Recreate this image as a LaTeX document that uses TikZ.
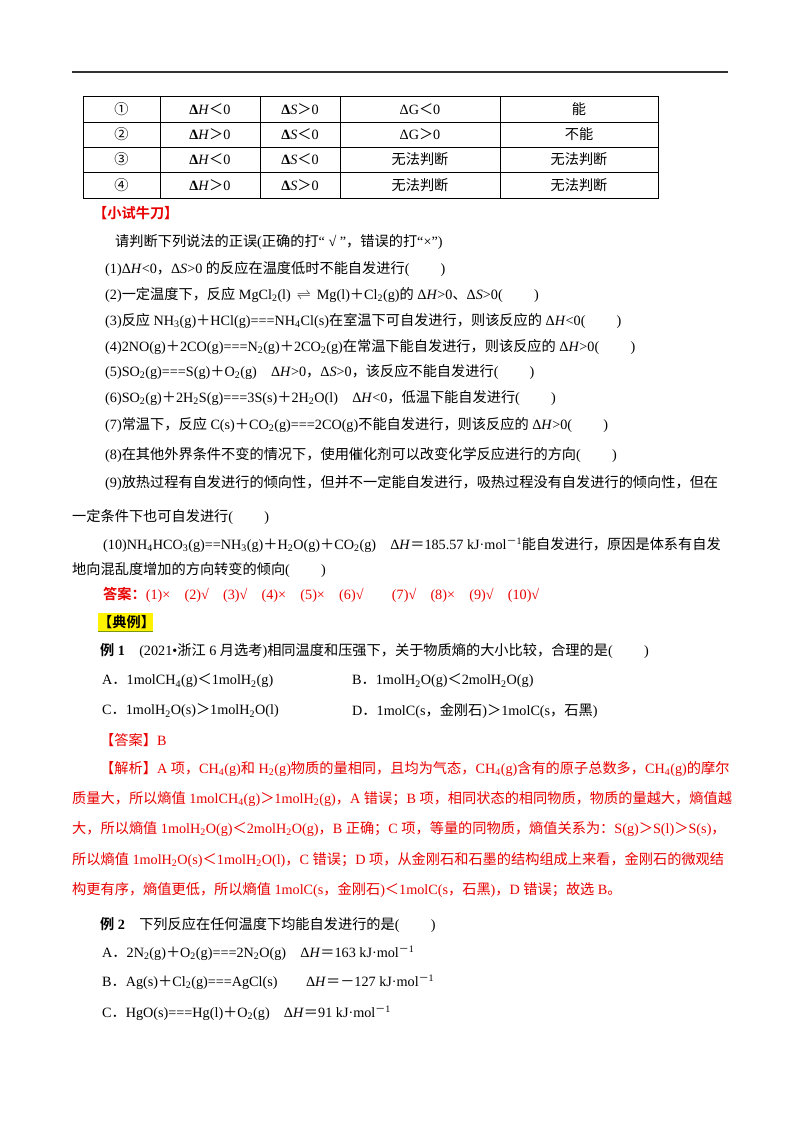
\documentclass[tikz,border=0pt]{standalone}
\usepackage{fontspec}
\setmainfont{Liberation Serif}
\newfontfamily\cjkf{Noto Sans CJK SC}[BoldFont={* Bold}]
\newcommand\latf{\rmfamily}
\XeTeXinterchartokenstate=1
\newXeTeXintercharclass\CJKcls
\newcount\cc
\newcommand\setcls[2]{\cc=#1\relax\loop\XeTeXcharclass\cc=\CJKcls\ifnum\cc<#2\advance\cc by 1\repeat}
\setcls{"4E00}{"9FFF}
\setcls{"3000}{"303F}
\setcls{"FF00}{"FFEF}
\setcls{"2460}{"2473}
\XeTeXinterchartoks 0 \CJKcls={\cjkf}
\XeTeXinterchartoks 4095 \CJKcls={\cjkf}
\XeTeXinterchartoks \CJKcls 0={\latf}
\XeTeXinterchartoks \CJKcls 4095={\latf}
\newcommand\s[1]{\textsubscript{#1}}
\newcommand\up[1]{\textsuperscript{#1}}
\newcommand\dH{Δ\textit{H}}
\newcommand\dS{Δ\textit{S}}
\definecolor{redt}{RGB}{232,0,0}
\tikzset{t/.style={anchor=west,inner sep=0pt,font=\fontsize{14.2}{16}\selectfont},
 tc/.style={inner sep=0pt,font=\fontsize{14.2}{16}\selectfont},
 rt/.style={t,text=redt}}
\begin{document}
\begin{tikzpicture}[x=1pt,y=-1pt]
\useasboundingbox (0,0) rectangle (800,1132);
\draw[line width=1.2pt,black!80] (72,72) -- (728,72);
% table
\draw[line width=0.6pt] (83,96) rectangle (658,198);
\foreach \y in {122,147,172} \draw[line width=0.6pt] (83,\y) -- (658,\y);
\foreach \x in {160,260,340,500} \draw[line width=0.6pt] (\x,96) -- (\x,198);
\foreach \y/\a/\b/\c/\d/\e [count=\i] in {109/①/＜/＞/ΔG＜0/能,134.5/②/＞/＜/ΔG＞0/不能,159.5/③/＜/＜/无法判断/无法判断,185/④/＞/＞/无法判断/无法判断}{
 \node[tc] (c1\i) at (121.5,\y) {\a};
 \node[tc] (c2\i) at (210,\y) {\textbf{Δ}\textit{H}\b0};
 \node[tc] (c3\i) at (300,\y) {\textbf{Δ}\textit{S}\c0};
 \node[tc] (c4\i) at (420,\y) {\d};
 \node[tc] (c5\i) at (579,\y) {\e};
}
\node[t,text=redt,font=\fontsize{14.2}{16}\selectfont\bfseries] (h1) at (93,213) {【小试牛刀】};
\node[t] (l0) at (115,242) {请判断下列说法的正误(正确的打“ √ ”，错误的打“×”)};
\node[t] (l1) at (105,269) {(1)\dH<0，\dS>0 的反应在温度低时不能自发进行(\hspace{2.2em})};
\node[t] (l2) at (105,295) {(2)一定温度下，反应 MgCl\s2(l)\, $\rightleftharpoons$\, Mg(l)＋Cl\s2(g)的 \dH>0、\dS>0(\hspace{2.2em})};
\node[t] (l3) at (105,321) {(3)反应 NH\s3(g)＋HCl(g)===NH\s4Cl(s)在室温下可自发进行，则该反应的 \dH<0(\hspace{2.2em})};
\node[t] (l4) at (105,347) {(4)2NO(g)＋2CO(g)===N\s2(g)＋2CO\s2(g)在常温下能自发进行，则该反应的 \dH>0(\hspace{2.2em})};
\node[t] (l5) at (105,372) {(5)SO\s2(g)===S(g)＋O\s2(g)\quad \dH>0，\dS>0，该反应不能自发进行(\hspace{2.2em})};
\node[t] (l6) at (105,398) {(6)SO\s2(g)＋2H\s2S(g)===3S(s)＋2H\s2O(l)\quad \dH<0，低温下能自发进行(\hspace{2.2em})};
\node[t] (l7) at (105,425) {(7)常温下，反应 C(s)＋CO\s2(g)===2CO(g)不能自发进行，则该反应的 \dH>0(\hspace{2.2em})};
\node[t] (l8) at (105,455) {(8)在其他外界条件不变的情况下，使用催化剂可以改变化学反应进行的方向(\hspace{2.2em})};
\node[t] (l9) at (105,483) {(9)放热过程有自发进行的倾向性，但并不一定能自发进行，吸热过程没有自发进行的倾向性，但在};
\node[t] (l9b) at (72,517) {一定条件下也可自发进行(\hspace{2.2em})};
\node[t] (l10) at (103,545) {(10)NH\s4HCO\s3(g)==NH\s3(g)＋H\s2O(g)＋CO\s2(g)\quad \dH＝185.57 kJ·mol\up{－1}能自发进行，原因是体系有自发};
\node[t] (l10b) at (72,570) {地向混乱度增加的方向转变的倾向(\hspace{2.2em})};
\node[rt] (ans) at (103,595) {\textbf{答案：}(1)×\quad(2)√\quad(3)√\quad(4)×\quad(5)×\quad(6)√\qquad(7)√\quad(8)×\quad(9)√\quad(10)√};
\fill[yellow] (98,613) rectangle (153,631);
\draw[olive!70!green,line width=1pt] (98,631.5) -- (153,631.5);
\node[t,font=\fontsize{14.2}{16}\selectfont\bfseries] (h2) at (98,622) {【典例】};
\node[t] (e1) at (100,651) {\textbf{例 1}\quad (2021•浙江 6 月选考)相同温度和压强下，关于物质熵的大小比较，合理的是(\hspace{2.2em})};
\node[t] (e1a) at (102,681) {A．1molCH\s4(g)＜1molH\s2(g)};
\node[t] (e1b) at (352,681) {B．1molH\s2O(g)＜2molH\s2O(g)};
\node[t] (e1c) at (102,711) {C．1molH\s2O(s)＞1molH\s2O(l)};
\node[t] (e1d) at (352,711) {D．1molC(s，金刚石)＞1molC(s，石黑)};
\node[rt] (da) at (100,740) {【答案】B};
\node[rt] (j1) at (100,769) {【解析】A 项，CH\s4(g)和 H\s2(g)物质的量相同，且均为气态，CH\s4(g)含有的原子总数多，CH\s4(g)的摩尔};
\node[rt] (j2) at (72,799) {质量大，所以熵值 1molCH\s4(g)＞1molH\s2(g)，A 错误；B 项，相同状态的相同物质，物质的量越大，熵值越};
\node[rt] (j3) at (72,829) {大，所以熵值 1molH\s2O(g)＜2molH\s2O(g)，B 正确；C 项，等量的同物质，熵值关系为：S(g)＞S(l)＞S(s)，};
\node[rt] (j4) at (72,860) {所以熵值 1molH\s2O(s)＜1molH\s2O(l)，C 错误；D 项，从金刚石和石墨的结构组成上来看，金刚石的微观结};
\node[rt] (j5) at (72,890) {构更有序，熵值更低，所以熵值 1molC(s，金刚石)＜1molC(s，石黑)，D 错误；故选 B。};
\node[t] (e2) at (100,925) {\textbf{例 2}\quad 下列反应在任何温度下均能自发进行的是(\hspace{2.2em})};
\node[t] (e2a) at (102,953) {A．2N\s2(g)＋O\s2(g)===2N\s2O(g)\quad \dH＝163 kJ·mol\up{－1}};
\node[t] (e2b) at (102,982) {B．Ag(s)＋Cl\s2(g)===AgCl(s)\qquad \dH＝－127 kJ·mol\up{－1}};
\node[t] (e2c) at (102,1013) {C．HgO(s)===Hg(l)＋O\s2(g)\quad \dH＝91 kJ·mol\up{－1}};
\end{tikzpicture}
\end{document}
